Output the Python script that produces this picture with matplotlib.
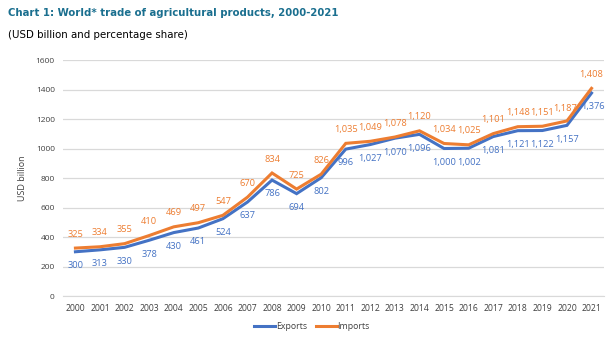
import matplotlib
matplotlib.use("Agg")
import matplotlib.pyplot as plt

# -------------------------------------------------
# DATA
# -------------------------------------------------

years = list(range(2000, 2022))

exports = [300, 313, 330, 378, 430, 461, 524, 637, 786, 694, 802,
           996, 1027, 1070, 1096, 1000, 1002, 1081, 1121, 1122, 1157, 1376]

imports = [325, 334, 355, 410, 469, 497, 547, 670, 834, 725, 826,
           1035, 1049, 1078, 1120, 1034, 1025, 1101, 1148, 1151, 1187, 1408]

yticks = [0, 200, 400, 600, 800, 1000, 1200, 1400, 1600]

BLUE = "#4472C4"
ORANGE = "#ED7D31"

plt.rcParams["font.family"] = ["Open Sans", "DejaVu Sans"]

# -------------------------------------------------
# PLOT
# -------------------------------------------------

fig = plt.figure(figsize=(6.13, 3.43), dpi=100)
ax = fig.add_axes([0.103, 0.137, 0.882, 0.688])

x = list(range(len(years)))

ax.plot(x, exports, color=BLUE, lw=2.2, label="Exports", solid_joinstyle="miter")
ax.plot(x, imports, color=ORANGE, lw=2.2, label="Imports", solid_joinstyle="miter")

for i, v in enumerate(exports):
    dx, dy = 0, -10
    if i == len(exports) - 1:
        dx, dy = 1, -10
    ax.annotate(f"{v:,}", (i, v), xytext=(dx, dy), textcoords="offset points",
                ha="center", va="center", fontsize=6.7, color=BLUE)

for i, v in enumerate(imports):
    dx, dy = 0, 10
    if i == len(imports) - 2:
        dx, dy = -1, 9
    ax.annotate(f"{v:,}", (i, v), xytext=(dx, dy), textcoords="offset points",
                ha="center", va="center", fontsize=6.7, color=ORANGE)

ax.set_xlim(-0.5, len(years) - 0.5)
ax.set_ylim(0, 1600)
ax.set_xticks(x)
ax.set_xticklabels([str(y) for y in years], fontsize=6.2, color="#404040")
ax.set_yticks(yticks)
ax.set_yticklabels([str(t) for t in yticks], fontsize=6.0, color="#404040")
ax.tick_params(length=0, pad=6)

ax.grid(axis="y", color="#D9D9D9", lw=0.9)
ax.set_axisbelow(True)
for s in ["top", "right", "left"]:
    ax.spines[s].set_visible(False)
ax.spines["bottom"].set_color("#D9D9D9")

ax.set_ylabel("USD billion", fontsize=6.5, color="#404040", labelpad=6)

ax.legend(loc="upper center", bbox_to_anchor=(0.46, -0.075), ncol=2,
          frameon=False, fontsize=6.3, handlelength=2.4, handletextpad=0.1,
          columnspacing=1.0, labelcolor="#404040")

fig.text(0.013, 0.962, "Chart 1: World* trade of agricultural products, 2000-2021",
         fontsize=7.3, fontweight="bold", color="#1A6F8F", family="DejaVu Sans",
         va="center")
fig.text(0.013, 0.898, "(USD billion and percentage share)",
         fontsize=7.4, color="black", va="center", family="DejaVu Sans")

plt.savefig("out.png", dpi=100)
